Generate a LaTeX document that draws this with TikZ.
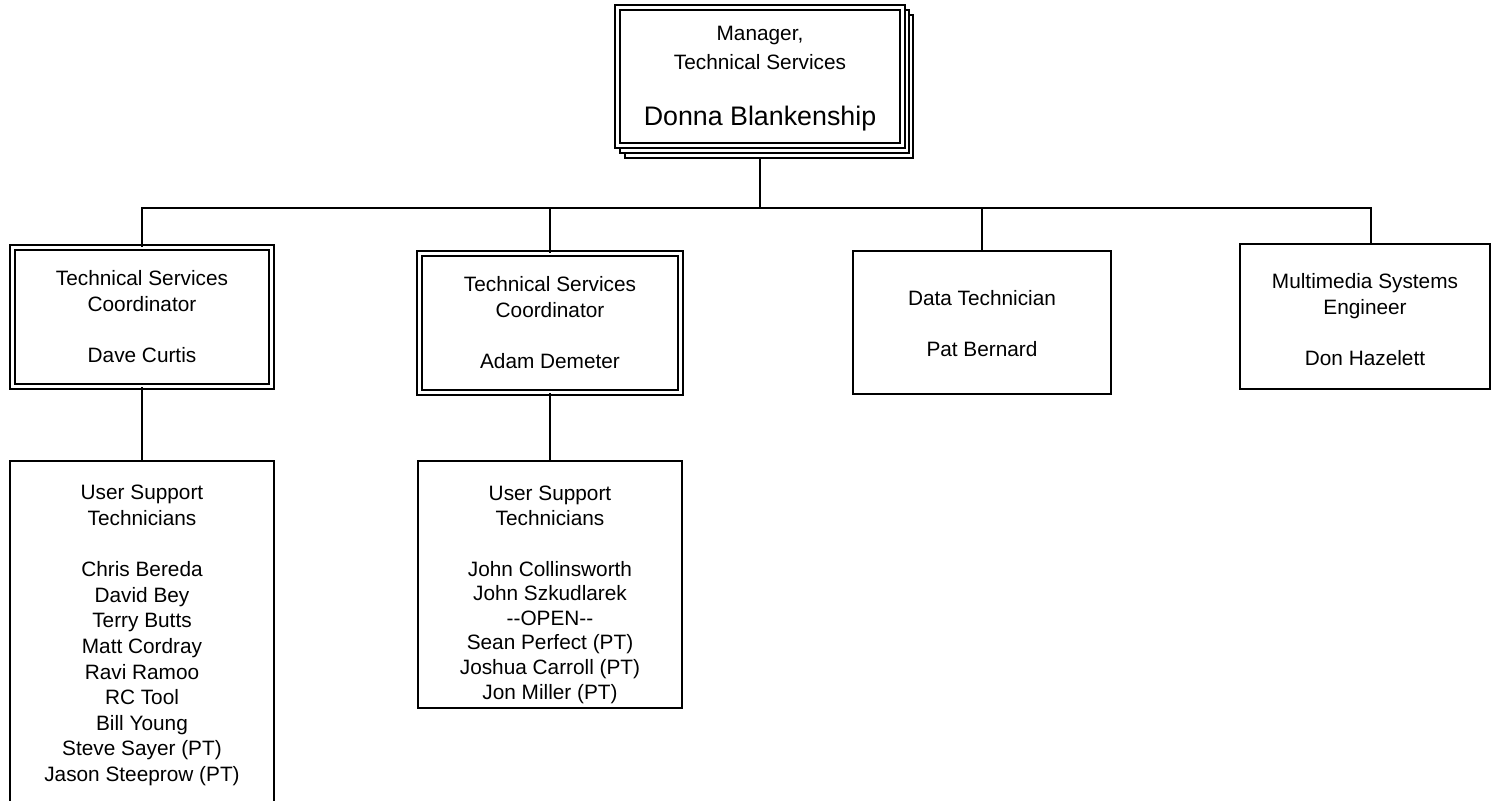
\documentclass[tikz,border=0pt]{standalone}
\usepackage{fontspec}
\setmainfont{Liberation Sans}
\begin{document}
\begin{tikzpicture}[x=0.5pt,y=-0.5pt,
  lw/.style={line width=0.9pt},
  plainbox/.style={draw,lw,fill=white,rectangle,inner sep=0pt},
  dblbox/.style={draw,line width=0.8pt,double=white,double distance=1.7pt,rectangle,inner sep=0pt},
  lbl/.style={align=center,inner sep=0pt,anchor=north,font=\fontsize{10.4pt}{12.8pt}\selectfont},
  conn/.style={lw}]
\useasboundingbox (0,0) rectangle (1491,800);
% manager stacked frames
\node[plainbox,minimum width=144pt,minimum height=71.5pt] (mgrs2) at (769,86.5) {};
\node[plainbox,minimum width=144.5pt,minimum height=71.5pt] (mgrs1) at (764.5,81.5) {};
\node[dblbox,fill=white,minimum width=142.5pt,minimum height=69pt] (mgr) at (760,76.5) {};
\node[lbl,font=\fontsize{10.4pt}{14.5pt}\selectfont] (mgrt) at (760,26) {Manager,\\Technical Services};
\node[inner sep=0pt,anchor=base,font=\fontsize{13.4pt}{16pt}\selectfont] (mgrn) at (760,125) {Donna Blankenship};
% level 2
\node[dblbox,minimum width=129.5pt,minimum height=69.5pt] (c1) at (142,317) {};
\node[dblbox,minimum width=130.5pt,minimum height=69.5pt] (c2) at (550,323) {};
\node[plainbox,minimum width=129pt,minimum height=71.5pt] (c3) at (982,322.5) {};
\node[plainbox,minimum width=125pt,minimum height=72.5pt] (c4) at (1365,316.5) {};
\node[lbl] (c1t) at (142,270) {Technical Services\\Coordinator\\[12.8pt]Dave Curtis};
\node[lbl] (c2t) at (550,276) {Technical Services\\Coordinator\\[12.8pt]Adam Demeter};
\node[lbl] (c3t) at (982,290) {Data Technician\\[12.8pt]Pat Bernard};
\node[lbl] (c4t) at (1365,273) {Multimedia Systems\\Engineer\\[12.8pt]Don Hazelett};
% level 3
\node[plainbox,minimum width=132pt,minimum height=172pt] (u1) at (142,633) {};
\node[plainbox,minimum width=132pt,minimum height=123.5pt] (u2) at (550,584.5) {};
\node[lbl] (u1t) at (142,485) {User Support\\Technicians\\[12.8pt]Chris Bereda\\David Bey\\Terry Butts\\Matt Cordray\\Ravi Ramoo\\RC Tool\\Bill Young\\Steve Sayer (PT)\\Jason Steeprow (PT)};
\node[lbl,font=\fontsize{10.4pt}{12.3pt}\selectfont] (u2t) at (550,486) {User Support\\Technicians\\[13pt]John Collinsworth\\John Szkudlarek\\-{}-OPEN-{}-\\Sean Perfect (PT)\\Joshua Carroll (PT)\\Jon Miller (PT)};
% connectors
\coordinate (bar) at (0,208);
\draw[conn] (mgr.south |- mgrs2.south) -- (mgr.south |- bar);
\draw[conn] (c1.north) -- (c1.north |- bar) -- ([xshift=3pt]c4.north |- bar) -- ([xshift=3pt]c4.north);
\draw[conn] (c2.north) -- (c2.north |- bar);
\draw[conn] (c3.north) -- (c3.north |- bar);
\draw[conn] (c1.south) -- (u1.north);
\draw[conn] (c2.south) -- (u2.north);
\end{tikzpicture}
\end{document}
